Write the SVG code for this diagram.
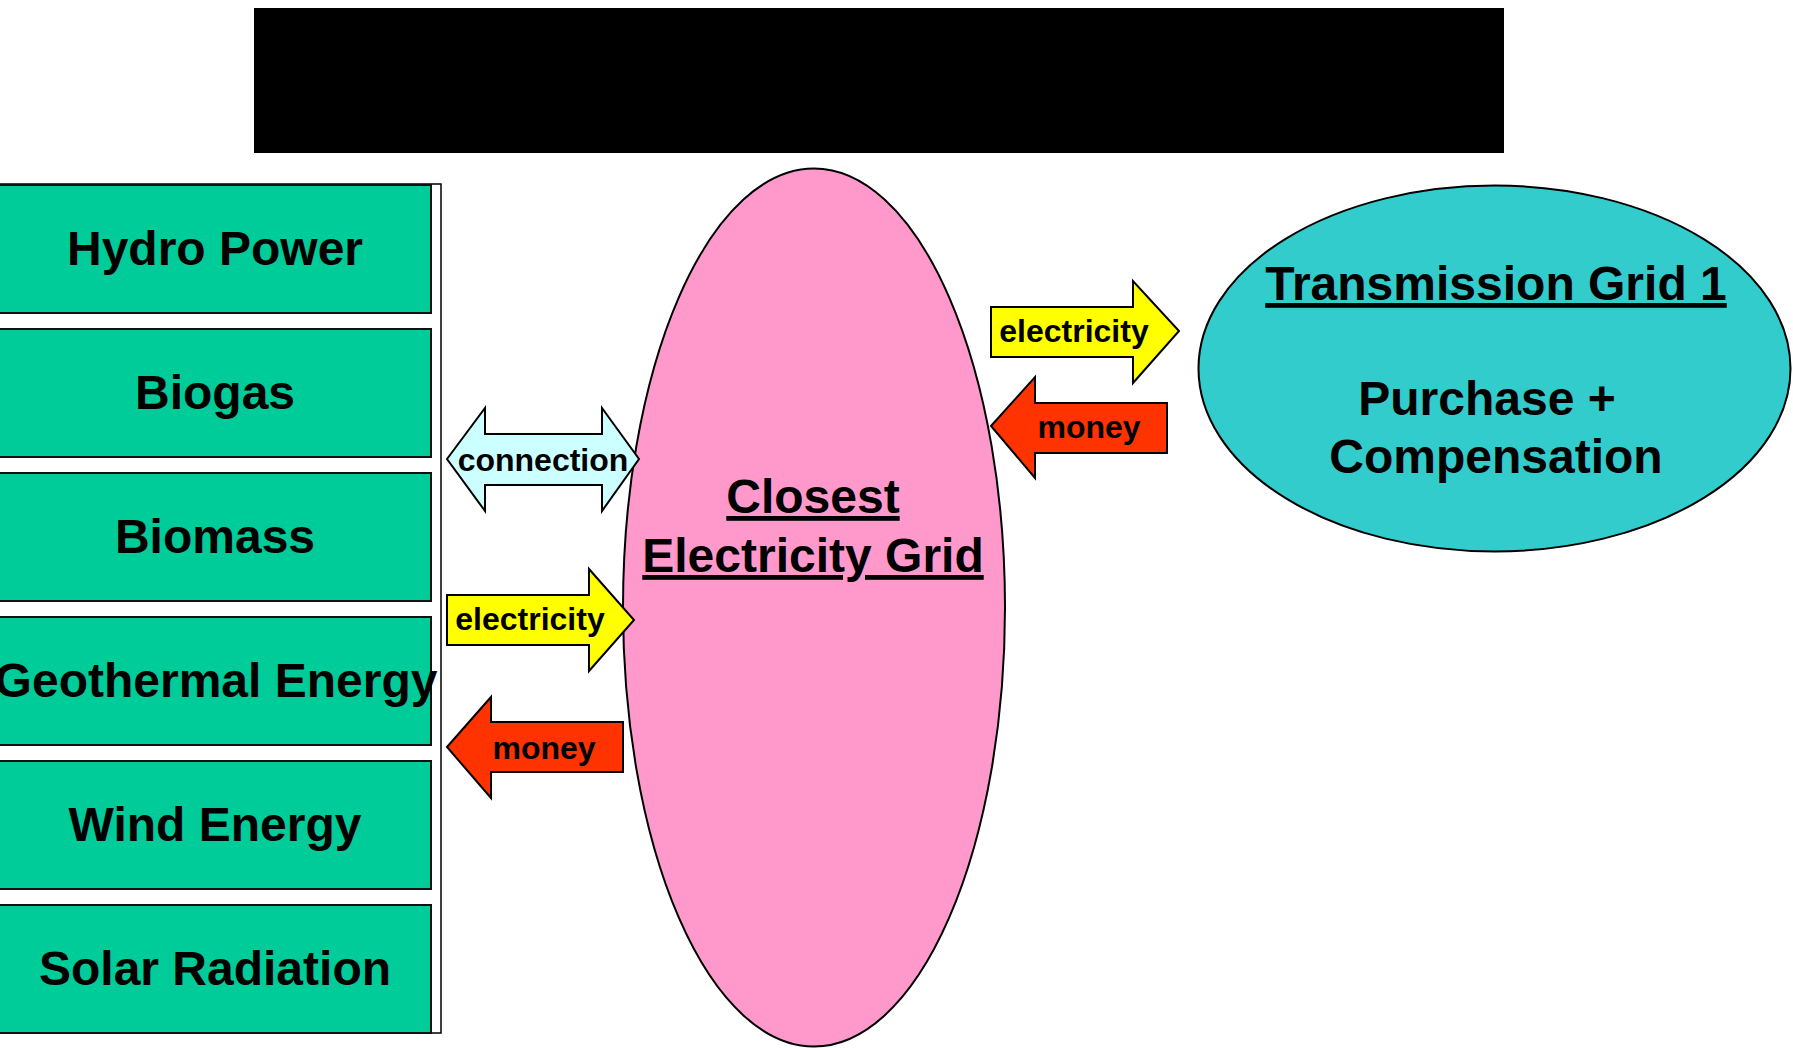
<svg xmlns="http://www.w3.org/2000/svg" width="1793" height="1048" viewBox="0 0 1793 1048">
<style>
.box{fill:#00CC99;stroke:#111;stroke-width:2}
.big{font-family:"Liberation Sans",Arial,sans-serif;font-weight:bold;font-size:48px;fill:#000;text-anchor:middle}
.small{font-family:"Liberation Sans",Arial,sans-serif;font-weight:bold;font-size:32px;fill:#000;text-anchor:middle}
.u{text-decoration:underline}
.arr{stroke:#000;stroke-width:2;stroke-linejoin:miter}
</style>
<rect width="1793" height="1048" fill="#fff"/>
<rect id="title" x="254" y="8" width="1250" height="145" fill="#000"/>
<g id="sources">
<rect x="-3" y="184" width="444" height="849" fill="#fff" stroke="#000" stroke-width="1.5"/>
<g id="hydro"><rect class="box" x="-3" y="185" width="434" height="128"/><text class="big" x="215" y="265">Hydro Power</text></g>
<g id="biogas"><rect class="box" x="-3" y="329" width="434" height="128"/><text class="big" x="215" y="409">Biogas</text></g>
<g id="biomass"><rect class="box" x="-3" y="473" width="434" height="128"/><text class="big" x="215" y="553">Biomass</text></g>
<g id="geothermal"><rect class="box" x="-3" y="617" width="434" height="128"/><text class="big" x="216" y="697">Geothermal Energy</text></g>
<g id="wind"><rect class="box" x="-3" y="761" width="434" height="128"/><text class="big" x="215" y="841">Wind Energy</text></g>
<g id="solar"><rect class="box" x="-3" y="905" width="434" height="128"/><text class="big" x="215" y="985">Solar Radiation</text></g>
</g>
<g id="closest-grid">
<ellipse cx="814" cy="607.5" rx="191" ry="439" fill="#FF99CC" stroke="#000" stroke-width="2"/>
<text class="big u" x="813" y="513">Closest</text>
<text class="big u" x="813" y="572">Electricity Grid</text>
</g>
<g id="transmission-grid">
<ellipse cx="1494.5" cy="368.5" rx="296" ry="183" fill="#33CCCC" stroke="#000" stroke-width="2"/>
<text class="big u" x="1496" y="300">Transmission Grid 1</text>
<text class="big" x="1487" y="415">Purchase +</text>
<text class="big" x="1496" y="473">Compensation</text>
</g>
<g id="connectors">
<g id="connection-arrow">
<polygon class="arr" fill="#CCFFFF" points="447,459 485,408 485,434 602,434 602,408 639,459 602,511 602,485 485,485 485,511"/>
<text class="small" x="543" y="471">connection</text>
</g>
<g id="electricity-left">
<polygon class="arr" fill="#FFFF00" points="447,595 589,595 589,569 634,620 589,671 589,645 447,645"/>
<text class="small" x="530" y="630">electricity</text>
</g>
<g id="money-left">
<polygon class="arr" fill="#FF3300" points="447,747 491,697 491,722 623,722 623,772 491,772 491,798"/>
<text class="small" x="544" y="759">money</text>
</g>
<g id="electricity-right">
<polygon class="arr" fill="#FFFF00" points="991,307 1133,307 1133,281 1179,331 1133,383 1133,357 991,357"/>
<text class="small" x="1074" y="342">electricity</text>
</g>
<g id="money-right">
<polygon class="arr" fill="#FF3300" points="991,426 1035,377 1035,403 1167,403 1167,453 1035,453 1035,478"/>
<text class="small" x="1089" y="438">money</text>
</g>
</g>
</svg>
